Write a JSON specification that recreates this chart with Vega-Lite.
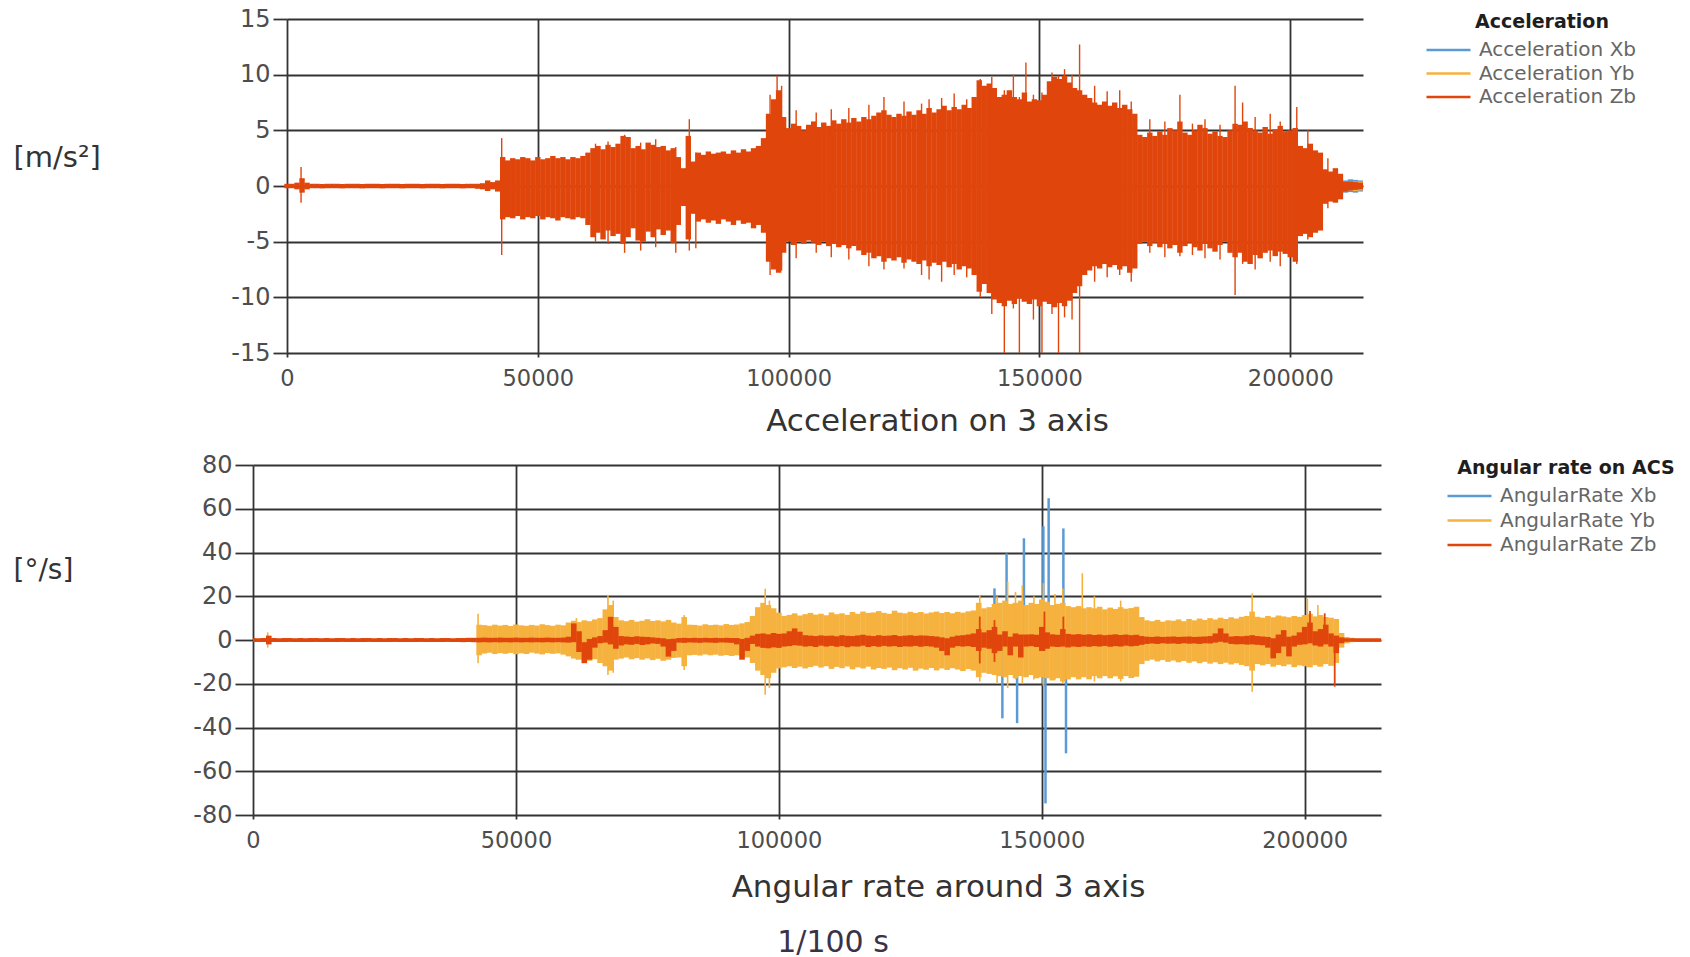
{
  "$schema": "https://vega.github.io/schema/vega-lite/v6.json",
  "background": "white",
  "padding": {"left": 13, "top": 7, "right": 5, "bottom": 0},
  "spacing": 17,
  "config": {
    "font": "DejaVu Sans",
    "view": {"stroke": null},
    "axis": {"gridColor": "#333333", "gridWidth": 1.8, "gridOpacity": 1, "domain": false, "tickColor": "#333333", "tickWidth": 1.8, "labelColor": "#4d4d4d", "labelFont": "DejaVu Sans", "labelFontSize": 22.5, "titleFont": "DejaVu Sans", "titleFontWeight": "normal", "titleColor": "#333333", "labelFlush": false, "labelOverlap": false, "labelExpr": "'' + datum.value"},
    "legend": {"labelFont": "DejaVu Sans", "labelFontSize": 20, "labelColor": "#666666", "titleFont": "DejaVu Sans", "titleFontSize": 19, "titleFontWeight": "bold", "titleColor": "#1e1e1e", "titleLimit": 500, "labelLimit": 500}
  },
  "resolve": {"scale": {"color": "independent", "x": "independent", "y": "independent"}, "legend": {"color": "independent"}},
  "datasets": {
    "accX": [{"t":209000,"lo":-0.6,"hi":0.6},{"t":210000,"lo":-0.5,"hi":0.6},{"t":211000,"lo":-0.6,"hi":0.5},{"t":212000,"lo":-0.55,"hi":0.6},{"t":213000,"lo":-0.6,"hi":0.55},{"t":214000,"lo":-0.5,"hi":0.5}],
    "accY": [{"t":209000,"lo":-0.45,"hi":0.45},{"t":210000,"lo":-0.4,"hi":0.45},{"t":211000,"lo":-0.45,"hi":0.4},{"t":212000,"lo":-0.4,"hi":0.4},{"t":213000,"lo":-0.45,"hi":0.4},{"t":214000,"lo":-0.4,"hi":0.4}],
    "accZ": [
      {"t":0,"lo":-0.2,"hi":0.2},{"t":1000,"lo":-0.2,"hi":0.2},{"t":2000,"lo":-0.3,"hi":0.3},{"t":3000,"lo":-0.6,"hi":0.7},{"t":4000,"lo":-0.3,"hi":0.3},
      {"t":5000,"lo":-0.2,"hi":0.2},{"t":6000,"lo":-0.2,"hi":0.2},{"t":7000,"lo":-0.22,"hi":0.18},{"t":8000,"lo":-0.2,"hi":0.2},{"t":9000,"lo":-0.2,"hi":0.2},
      {"t":10000,"lo":-0.2,"hi":0.2},{"t":11000,"lo":-0.22,"hi":0.18},{"t":12000,"lo":-0.2,"hi":0.2},{"t":13000,"lo":-0.2,"hi":0.2},{"t":14000,"lo":-0.2,"hi":0.2},
      {"t":15000,"lo":-0.22,"hi":0.18},{"t":16000,"lo":-0.2,"hi":0.2},{"t":17000,"lo":-0.2,"hi":0.2},{"t":18000,"lo":-0.2,"hi":0.2},{"t":19000,"lo":-0.22,"hi":0.18},
      {"t":20000,"lo":-0.2,"hi":0.2},{"t":21000,"lo":-0.2,"hi":0.2},{"t":22000,"lo":-0.2,"hi":0.2},{"t":23000,"lo":-0.22,"hi":0.18},{"t":24000,"lo":-0.2,"hi":0.2},
      {"t":25000,"lo":-0.2,"hi":0.2},{"t":26000,"lo":-0.2,"hi":0.2},{"t":27000,"lo":-0.22,"hi":0.18},{"t":28000,"lo":-0.2,"hi":0.2},{"t":29000,"lo":-0.2,"hi":0.2},
      {"t":30000,"lo":-0.2,"hi":0.2},{"t":31000,"lo":-0.22,"hi":0.18},{"t":32000,"lo":-0.2,"hi":0.2},{"t":33000,"lo":-0.2,"hi":0.2},{"t":34000,"lo":-0.2,"hi":0.2},
      {"t":35000,"lo":-0.22,"hi":0.18},{"t":36000,"lo":-0.2,"hi":0.2},{"t":37000,"lo":-0.2,"hi":0.2},{"t":38000,"lo":-0.25,"hi":0.2},{"t":39000,"lo":-0.3,"hi":0.25},
      {"t":40000,"lo":-0.45,"hi":0.5},{"t":41000,"lo":-0.3,"hi":0.35},{"t":42000,"lo":-0.5,"hi":0.5},{"t":43000,"lo":-3.0,"hi":2.6},{"t":44000,"lo":-2.8,"hi":2.3},
      {"t":45000,"lo":-2.9,"hi":2.5},{"t":46000,"lo":-2.7,"hi":2.4},{"t":47000,"lo":-3.0,"hi":2.6},{"t":48000,"lo":-2.8,"hi":2.5},{"t":49000,"lo":-2.9,"hi":2.3},
      {"t":50000,"lo":-2.7,"hi":2.6},{"t":51000,"lo":-3.0,"hi":2.4},{"t":52000,"lo":-2.8,"hi":2.5},{"t":53000,"lo":-2.9,"hi":2.7},{"t":54000,"lo":-3.1,"hi":2.5},
      {"t":55000,"lo":-2.8,"hi":2.6},{"t":56000,"lo":-2.9,"hi":2.4},{"t":57000,"lo":-3.0,"hi":2.6},{"t":58000,"lo":-2.8,"hi":2.5},{"t":59000,"lo":-2.9,"hi":2.7},
      {"t":60000,"lo":-3.5,"hi":3.0},{"t":61000,"lo":-4.6,"hi":3.4},{"t":62000,"lo":-4.2,"hi":3.6},{"t":63000,"lo":-4.8,"hi":3.3},{"t":64000,"lo":-4.0,"hi":3.7},
      {"t":65000,"lo":-4.5,"hi":3.5},{"t":66000,"lo":-4.3,"hi":3.8},{"t":67000,"lo":-5.2,"hi":4.5},{"t":68000,"lo":-4.6,"hi":4.4},{"t":69000,"lo":-3.8,"hi":3.4},
      {"t":70000,"lo":-4.9,"hi":3.6},{"t":71000,"lo":-5.0,"hi":3.3},{"t":72000,"lo":-4.1,"hi":3.9},{"t":73000,"lo":-4.6,"hi":3.7},{"t":74000,"lo":-3.9,"hi":3.5},
      {"t":75000,"lo":-4.4,"hi":3.6},{"t":76000,"lo":-4.0,"hi":3.2},{"t":77000,"lo":-5.1,"hi":3.4},{"t":78000,"lo":-3.5,"hi":2.6},{"t":79000,"lo":-1.8,"hi":1.6},
      {"t":80000,"lo":-4.8,"hi":4.5},{"t":81000,"lo":-2.5,"hi":2.2},{"t":82000,"lo":-3.2,"hi":3.0},{"t":83000,"lo":-3.0,"hi":2.8},{"t":84000,"lo":-3.3,"hi":3.1},
      {"t":85000,"lo":-3.1,"hi":2.9},{"t":86000,"lo":-3.4,"hi":3.0},{"t":87000,"lo":-3.0,"hi":3.1},{"t":88000,"lo":-3.2,"hi":2.9},{"t":89000,"lo":-3.5,"hi":3.2},
      {"t":90000,"lo":-3.1,"hi":3.0},{"t":91000,"lo":-3.4,"hi":3.3},{"t":92000,"lo":-3.3,"hi":3.1},{"t":93000,"lo":-3.8,"hi":3.4},{"t":94000,"lo":-3.5,"hi":3.6},
      {"t":95000,"lo":-4.2,"hi":4.3},{"t":96000,"lo":-6.8,"hi":6.5},{"t":97000,"lo":-7.5,"hi":7.8},{"t":98000,"lo":-7.8,"hi":8.6},{"t":99000,"lo":-6.0,"hi":6.2},
      {"t":100000,"lo":-5.0,"hi":5.2},{"t":101000,"lo":-5.3,"hi":5.6},{"t":102000,"lo":-5.0,"hi":5.4},{"t":103000,"lo":-5.2,"hi":5.0},{"t":104000,"lo":-4.9,"hi":5.5},
      {"t":105000,"lo":-5.1,"hi":5.8},{"t":106000,"lo":-5.3,"hi":5.3},{"t":107000,"lo":-5.0,"hi":5.7},{"t":108000,"lo":-5.4,"hi":5.4},{"t":109000,"lo":-5.2,"hi":5.9},
      {"t":110000,"lo":-5.5,"hi":5.6},{"t":111000,"lo":-5.3,"hi":6.0},{"t":112000,"lo":-5.6,"hi":5.7},{"t":113000,"lo":-5.4,"hi":6.1},{"t":114000,"lo":-5.8,"hi":5.8},
      {"t":115000,"lo":-6.2,"hi":6.2},{"t":116000,"lo":-6.0,"hi":6.0},{"t":117000,"lo":-6.5,"hi":6.3},{"t":118000,"lo":-6.3,"hi":6.6},{"t":119000,"lo":-6.8,"hi":6.8},
      {"t":120000,"lo":-6.5,"hi":6.4},{"t":121000,"lo":-6.7,"hi":6.2},{"t":122000,"lo":-6.4,"hi":6.5},{"t":123000,"lo":-6.9,"hi":6.3},{"t":124000,"lo":-6.6,"hi":6.7},
      {"t":125000,"lo":-6.8,"hi":6.4},{"t":126000,"lo":-7.0,"hi":6.8},{"t":127000,"lo":-6.7,"hi":6.5},{"t":128000,"lo":-7.2,"hi":7.0},{"t":129000,"lo":-6.9,"hi":6.6},
      {"t":130000,"lo":-7.1,"hi":6.9},{"t":131000,"lo":-6.8,"hi":7.2},{"t":132000,"lo":-7.3,"hi":6.8},{"t":133000,"lo":-7.0,"hi":7.1},{"t":134000,"lo":-7.5,"hi":6.9},
      {"t":135000,"lo":-7.2,"hi":7.3},{"t":136000,"lo":-7.4,"hi":7.0},{"t":137000,"lo":-8.0,"hi":8.0},{"t":138000,"lo":-9.5,"hi":9.5},{"t":139000,"lo":-8.8,"hi":9.0},
      {"t":140000,"lo":-9.6,"hi":9.2},{"t":141000,"lo":-10.2,"hi":8.8},{"t":142000,"lo":-10.5,"hi":8.0},{"t":143000,"lo":-10.8,"hi":8.2},{"t":144000,"lo":-10.3,"hi":8.6},
      {"t":145000,"lo":-10.6,"hi":8.0},{"t":146000,"lo":-10.1,"hi":7.8},{"t":147000,"lo":-10.4,"hi":8.4},{"t":148000,"lo":-10.6,"hi":7.6},{"t":149000,"lo":-10.2,"hi":7.8},
      {"t":150000,"lo":-10.8,"hi":7.7},{"t":151000,"lo":-10.4,"hi":8.2},{"t":152000,"lo":-10.6,"hi":9.4},{"t":153000,"lo":-10.9,"hi":9.8},{"t":154000,"lo":-10.5,"hi":9.6},
      {"t":155000,"lo":-10.8,"hi":9.9},{"t":156000,"lo":-10.3,"hi":9.3},{"t":157000,"lo":-9.6,"hi":8.8},{"t":158000,"lo":-9.0,"hi":8.6},{"t":159000,"lo":-8.0,"hi":8.2},
      {"t":160000,"lo":-7.6,"hi":7.9},{"t":161000,"lo":-7.2,"hi":7.5},{"t":162000,"lo":-7.4,"hi":7.3},{"t":163000,"lo":-7.0,"hi":7.6},{"t":164000,"lo":-7.3,"hi":7.2},
      {"t":165000,"lo":-7.1,"hi":7.5},{"t":166000,"lo":-7.5,"hi":7.0},{"t":167000,"lo":-7.2,"hi":7.3},{"t":168000,"lo":-7.8,"hi":6.9},{"t":169000,"lo":-7.4,"hi":6.5},
      {"t":170000,"lo":-5.2,"hi":4.6},{"t":171000,"lo":-5.0,"hi":4.4},{"t":172000,"lo":-5.4,"hi":4.8},{"t":173000,"lo":-5.1,"hi":4.5},{"t":174000,"lo":-5.5,"hi":4.9},
      {"t":175000,"lo":-5.2,"hi":4.6},{"t":176000,"lo":-5.6,"hi":5.2},{"t":177000,"lo":-5.3,"hi":5.0},{"t":178000,"lo":-6.0,"hi":5.8},{"t":179000,"lo":-5.4,"hi":4.8},
      {"t":180000,"lo":-5.1,"hi":4.6},{"t":181000,"lo":-5.5,"hi":5.0},{"t":182000,"lo":-5.8,"hi":5.5},{"t":183000,"lo":-5.2,"hi":5.2},{"t":184000,"lo":-5.6,"hi":4.7},
      {"t":185000,"lo":-5.9,"hi":4.9},{"t":186000,"lo":-5.3,"hi":4.5},{"t":187000,"lo":-5.0,"hi":4.4},{"t":188000,"lo":-6.0,"hi":5.0},{"t":189000,"lo":-6.4,"hi":5.6},
      {"t":190000,"lo":-6.0,"hi":5.5},{"t":191000,"lo":-6.8,"hi":5.8},{"t":192000,"lo":-7.0,"hi":5.2},{"t":193000,"lo":-6.2,"hi":5.0},{"t":194000,"lo":-6.5,"hi":4.8},
      {"t":195000,"lo":-6.0,"hi":5.3},{"t":196000,"lo":-5.8,"hi":4.7},{"t":197000,"lo":-6.3,"hi":5.1},{"t":198000,"lo":-5.9,"hi":5.4},{"t":199000,"lo":-6.1,"hi":4.9},
      {"t":200000,"lo":-6.4,"hi":5.0},{"t":201000,"lo":-6.8,"hi":5.2},{"t":202000,"lo":-4.5,"hi":3.6},{"t":203000,"lo":-4.3,"hi":3.4},{"t":204000,"lo":-4.6,"hi":3.8},
      {"t":205000,"lo":-4.2,"hi":3.2},{"t":206000,"lo":-4.0,"hi":3.0},{"t":207000,"lo":-1.6,"hi":1.5},{"t":208000,"lo":-1.4,"hi":1.3},{"t":209000,"lo":-1.5,"hi":1.6},
      {"t":210000,"lo":-1.2,"hi":1.1},{"t":211000,"lo":-0.5,"hi":0.4},{"t":212000,"lo":-0.4,"hi":0.4},{"t":213000,"lo":-0.35,"hi":0.35},{"t":214000,"lo":-0.3,"hi":0.3}
    ],
    "accZspikes": [
      {"t":2800,"lo":-1.5,"hi":1.7},{"t":42800,"lo":-6.2,"hi":4.3},{"t":61500,"lo":-5.0,"hi":3.8},{"t":64000,"lo":-5.2,"hi":4.0},{"t":67300,"lo":-6.0,"hi":4.6},
      {"t":70500,"lo":-5.8,"hi":3.9},{"t":73500,"lo":-5.5,"hi":4.2},{"t":77500,"lo":-6.0,"hi":3.5},{"t":80200,"lo":-5.8,"hi":6.0},{"t":81500,"lo":-5.6,"hi":3.0},
      {"t":96300,"lo":-8.0,"hi":8.2},{"t":97700,"lo":-6.0,"hi":9.9},{"t":98600,"lo":-7.6,"hi":9.0},{"t":101500,"lo":-6.5,"hi":6.8},{"t":105500,"lo":-6.0,"hi":6.6},
      {"t":108500,"lo":-6.4,"hi":6.9},{"t":112000,"lo":-6.6,"hi":7.0},{"t":116000,"lo":-7.2,"hi":7.3},{"t":119000,"lo":-7.5,"hi":8.0},{"t":123000,"lo":-7.4,"hi":7.6},
      {"t":126500,"lo":-8.0,"hi":7.4},{"t":128000,"lo":-8.4,"hi":7.8},{"t":130500,"lo":-8.6,"hi":7.9},{"t":133000,"lo":-8.0,"hi":8.3},{"t":135500,"lo":-8.2,"hi":7.8},
      {"t":138200,"lo":-10.0,"hi":9.6},{"t":140500,"lo":-11.5,"hi":9.8},{"t":143000,"lo":-15,"hi":8.6},{"t":144800,"lo":-11.0,"hi":10.0},{"t":146000,"lo":-15,"hi":8.0},
      {"t":147300,"lo":-9.0,"hi":11.1},{"t":148800,"lo":-12.0,"hi":8.2},{"t":150500,"lo":-15,"hi":8.4},{"t":152500,"lo":-11.5,"hi":10.2},{"t":153800,"lo":-15,"hi":9.9},
      {"t":155000,"lo":-11.8,"hi":10.5},{"t":156500,"lo":-12.0,"hi":10.0},{"t":158000,"lo":-15,"hi":12.7},{"t":161000,"lo":-8.6,"hi":9.0},{"t":163500,"lo":-8.2,"hi":8.5},
      {"t":166000,"lo":-8.0,"hi":8.6},{"t":168300,"lo":-8.6,"hi":7.6},{"t":172000,"lo":-6.0,"hi":6.0},{"t":175000,"lo":-6.4,"hi":5.8},{"t":178000,"lo":-6.3,"hi":8.2},
      {"t":180500,"lo":-6.2,"hi":5.6},{"t":183000,"lo":-6.5,"hi":6.0},{"t":186000,"lo":-6.6,"hi":5.5},{"t":189000,"lo":-9.8,"hi":9.0},{"t":190500,"lo":-7.0,"hi":7.5},
      {"t":193000,"lo":-7.5,"hi":6.2},{"t":196000,"lo":-6.8,"hi":6.5},{"t":198000,"lo":-7.2,"hi":5.8},{"t":201300,"lo":-7.0,"hi":7.1},{"t":203500,"lo":-4.8,"hi":5.0},
      {"t":207500,"lo":-2.0,"hi":2.5}
    ],
    "rateXspikes": [
      {"t":127800,"lo":-13,"hi":0},{"t":141000,"lo":-3,"hi":23.6},{"t":142500,"lo":-35.8,"hi":0},{"t":143300,"lo":0,"hi":39.6},{"t":145300,"lo":-38,"hi":0},
      {"t":146600,"lo":0,"hi":46.5},{"t":150300,"lo":-20,"hi":52},{"t":150700,"lo":-74.7,"hi":0},{"t":151300,"lo":0,"hi":64.8},{"t":154100,"lo":0,"hi":51},
      {"t":154600,"lo":-51.8,"hi":0}
    ],
    "rateY": [
      {"t":43000,"lo":-7.0,"hi":7.0},{"t":44000,"lo":-6.2,"hi":6.8},{"t":45000,"lo":-5.8,"hi":6.5},{"t":46000,"lo":-6.4,"hi":7.0},{"t":47000,"lo":-6.0,"hi":6.6},
      {"t":48000,"lo":-6.3,"hi":6.9},{"t":49000,"lo":-5.9,"hi":6.4},{"t":50000,"lo":-6.5,"hi":7.1},{"t":51000,"lo":-6.1,"hi":6.7},{"t":52000,"lo":-6.4,"hi":6.5},
      {"t":53000,"lo":-5.8,"hi":6.9},{"t":54000,"lo":-6.2,"hi":6.6},{"t":55000,"lo":-6.6,"hi":7.2},{"t":56000,"lo":-6.0,"hi":6.8},{"t":57000,"lo":-6.3,"hi":6.5},
      {"t":58000,"lo":-6.1,"hi":7.0},{"t":59000,"lo":-6.7,"hi":6.7},{"t":60000,"lo":-7.5,"hi":8.0},{"t":61000,"lo":-8.5,"hi":8.8},{"t":62000,"lo":-9.0,"hi":8.2},
      {"t":63000,"lo":-8.2,"hi":9.0},{"t":64000,"lo":-9.5,"hi":8.6},{"t":65000,"lo":-8.8,"hi":9.4},{"t":66000,"lo":-10.5,"hi":10.0},{"t":67000,"lo":-12.0,"hi":14.0},
      {"t":68000,"lo":-14.0,"hi":16.0},{"t":69000,"lo":-9.0,"hi":10.5},{"t":70000,"lo":-8.5,"hi":9.0},{"t":71000,"lo":-8.0,"hi":8.6},{"t":72000,"lo":-8.8,"hi":9.2},
      {"t":73000,"lo":-8.3,"hi":8.4},{"t":74000,"lo":-9.0,"hi":8.8},{"t":75000,"lo":-8.4,"hi":9.5},{"t":76000,"lo":-9.2,"hi":8.7},{"t":77000,"lo":-8.6,"hi":9.0},
      {"t":78000,"lo":-9.5,"hi":8.5},{"t":79000,"lo":-9.0,"hi":9.2},{"t":80000,"lo":-8.2,"hi":8.0},{"t":81000,"lo":-8.0,"hi":7.5},{"t":82000,"lo":-12.0,"hi":10.5},
      {"t":83000,"lo":-7.0,"hi":7.0},{"t":84000,"lo":-6.8,"hi":6.9},{"t":85000,"lo":-7.1,"hi":6.6},{"t":86000,"lo":-6.6,"hi":7.2},{"t":87000,"lo":-7.0,"hi":6.8},
      {"t":88000,"lo":-6.7,"hi":7.0},{"t":89000,"lo":-7.2,"hi":6.7},{"t":90000,"lo":-6.9,"hi":7.3},{"t":91000,"lo":-7.3,"hi":6.9},{"t":92000,"lo":-7.0,"hi":7.1},
      {"t":93000,"lo":-7.4,"hi":7.6},{"t":94000,"lo":-8.0,"hi":8.2},{"t":95000,"lo":-10.5,"hi":11.0},{"t":96000,"lo":-14.0,"hi":15.0},{"t":97000,"lo":-16.0,"hi":17.0},
      {"t":98000,"lo":-17.5,"hi":16.0},{"t":99000,"lo":-15.0,"hi":14.5},{"t":100000,"lo":-13.0,"hi":12.5},{"t":101000,"lo":-12.5,"hi":11.0},{"t":102000,"lo":-12.0,"hi":11.5},
      {"t":103000,"lo":-12.8,"hi":12.2},{"t":104000,"lo":-12.2,"hi":11.2},{"t":105000,"lo":-13.0,"hi":11.8},{"t":106000,"lo":-12.4,"hi":12.4},{"t":107000,"lo":-11.8,"hi":11.6},
      {"t":108000,"lo":-12.6,"hi":12.0},{"t":109000,"lo":-12.0,"hi":11.3},{"t":110000,"lo":-13.2,"hi":12.6},{"t":111000,"lo":-12.3,"hi":11.8},{"t":112000,"lo":-12.9,"hi":12.2},
      {"t":113000,"lo":-12.1,"hi":11.5},{"t":114000,"lo":-13.4,"hi":12.8},{"t":115000,"lo":-12.5,"hi":12.0},{"t":116000,"lo":-13.0,"hi":13.0},{"t":117000,"lo":-12.2,"hi":12.4},
      {"t":118000,"lo":-13.5,"hi":12.6},{"t":119000,"lo":-12.8,"hi":13.2},{"t":120000,"lo":-13.2,"hi":12.4},{"t":121000,"lo":-12.6,"hi":12.0},{"t":122000,"lo":-13.8,"hi":13.4},
      {"t":123000,"lo":-12.9,"hi":12.5},{"t":124000,"lo":-13.5,"hi":12.2},{"t":125000,"lo":-12.7,"hi":12.9},{"t":126000,"lo":-14.0,"hi":12.4},{"t":127000,"lo":-13.1,"hi":12.8},
      {"t":128000,"lo":-13.6,"hi":12.1},{"t":129000,"lo":-12.8,"hi":12.6},{"t":130000,"lo":-13.9,"hi":13.0},{"t":131000,"lo":-13.0,"hi":12.3},{"t":132000,"lo":-13.7,"hi":12.8},
      {"t":133000,"lo":-12.9,"hi":12.2},{"t":134000,"lo":-13.5,"hi":12.9},{"t":135000,"lo":-14.2,"hi":12.5},{"t":136000,"lo":-13.3,"hi":13.1},{"t":137000,"lo":-14.0,"hi":13.5},
      {"t":138000,"lo":-17.0,"hi":17.0},{"t":139000,"lo":-15.0,"hi":14.5},{"t":140000,"lo":-15.5,"hi":15.0},{"t":141000,"lo":-16.0,"hi":16.5},{"t":142000,"lo":-16.5,"hi":17.0},
      {"t":143000,"lo":-17.0,"hi":18.0},{"t":144000,"lo":-16.0,"hi":16.5},{"t":145000,"lo":-17.5,"hi":17.0},{"t":146000,"lo":-16.5,"hi":18.0},{"t":147000,"lo":-17.0,"hi":16.0},
      {"t":148000,"lo":-16.0,"hi":17.0},{"t":149000,"lo":-17.5,"hi":16.5},{"t":150000,"lo":-17.0,"hi":18.5},{"t":151000,"lo":-17.5,"hi":17.5},{"t":152000,"lo":-18.5,"hi":16.0},
      {"t":153000,"lo":-17.5,"hi":16.5},{"t":154000,"lo":-19.0,"hi":17.0},{"t":155000,"lo":-18.0,"hi":15.5},{"t":156000,"lo":-17.0,"hi":15.0},{"t":157000,"lo":-18.0,"hi":15.5},
      {"t":158000,"lo":-17.0,"hi":14.5},{"t":159000,"lo":-18.0,"hi":15.0},{"t":160000,"lo":-16.5,"hi":14.5},{"t":161000,"lo":-17.5,"hi":15.2},{"t":162000,"lo":-16.5,"hi":14.0},
      {"t":163000,"lo":-17.5,"hi":14.8},{"t":164000,"lo":-16.6,"hi":14.2},{"t":165000,"lo":-17.8,"hi":15.0},{"t":166000,"lo":-16.5,"hi":14.3},{"t":167000,"lo":-17.4,"hi":14.6},
      {"t":168000,"lo":-16.8,"hi":15.2},{"t":169000,"lo":-11.0,"hi":10.5},{"t":170000,"lo":-9.5,"hi":9.0},{"t":171000,"lo":-9.0,"hi":8.6},{"t":172000,"lo":-9.8,"hi":9.2},
      {"t":173000,"lo":-9.2,"hi":8.4},{"t":174000,"lo":-10.0,"hi":9.0},{"t":175000,"lo":-9.4,"hi":8.8},{"t":176000,"lo":-10.2,"hi":9.4},{"t":177000,"lo":-9.6,"hi":8.6},
      {"t":178000,"lo":-10.4,"hi":9.6},{"t":179000,"lo":-9.8,"hi":9.0},{"t":180000,"lo":-10.6,"hi":9.8},{"t":181000,"lo":-10.0,"hi":9.2},{"t":182000,"lo":-10.8,"hi":10.0},
      {"t":183000,"lo":-10.2,"hi":9.4},{"t":184000,"lo":-11.0,"hi":10.2},{"t":185000,"lo":-10.4,"hi":9.6},{"t":186000,"lo":-11.2,"hi":10.4},{"t":187000,"lo":-10.6,"hi":9.8},
      {"t":188000,"lo":-11.4,"hi":10.6},{"t":189000,"lo":-12.0,"hi":11.0},{"t":190000,"lo":-14.0,"hi":13.0},{"t":191000,"lo":-11.0,"hi":10.6},{"t":192000,"lo":-11.6,"hi":10.2},
      {"t":193000,"lo":-11.0,"hi":11.0},{"t":194000,"lo":-12.2,"hi":10.4},{"t":195000,"lo":-11.4,"hi":11.2},{"t":196000,"lo":-12.0,"hi":10.8},{"t":197000,"lo":-11.2,"hi":10.4},
      {"t":198000,"lo":-12.4,"hi":11.0},{"t":199000,"lo":-11.6,"hi":10.6},{"t":200000,"lo":-12.0,"hi":11.4},{"t":201000,"lo":-12.5,"hi":12.0},{"t":202000,"lo":-11.5,"hi":10.8},
      {"t":203000,"lo":-12.2,"hi":11.4},{"t":204000,"lo":-11.0,"hi":10.5},{"t":205000,"lo":-11.8,"hi":10.2},{"t":206000,"lo":-10.5,"hi":9.6},{"t":207000,"lo":-3.5,"hi":3.2},
      {"t":208000,"lo":-1.5,"hi":1.4},{"t":209000,"lo":-1.0,"hi":1.0}
    ],
    "rateYspikes": [
      {"t":2800,"lo":-3.5,"hi":3.5},{"t":42800,"lo":-10.6,"hi":12},{"t":61500,"lo":-9,"hi":10},{"t":67500,"lo":-16,"hi":20.5},{"t":68500,"lo":-15,"hi":18},
      {"t":82000,"lo":-13.7,"hi":11.4},{"t":97400,"lo":-25,"hi":23.5},{"t":98200,"lo":-22,"hi":18},{"t":138200,"lo":-19,"hi":20.6},{"t":141500,"lo":-20,"hi":20},
      {"t":143500,"lo":-22,"hi":26.7},{"t":145000,"lo":-18,"hi":22},{"t":146300,"lo":-20,"hi":25},{"t":148500,"lo":-18,"hi":20},{"t":150300,"lo":-21,"hi":26},
      {"t":152500,"lo":-18,"hi":21},{"t":154000,"lo":-20,"hi":23.6},{"t":157700,"lo":-12,"hi":30.5},{"t":160000,"lo":-19,"hi":20},{"t":165000,"lo":-19,"hi":18},
      {"t":190000,"lo":-23.6,"hi":21.3},{"t":200500,"lo":-12,"hi":19},{"t":202500,"lo":-12,"hi":16}
    ],
    "rateZ": [
      {"t":0,"lo":-0.9,"hi":0.9},{"t":1000,"lo":-0.9,"hi":0.8},{"t":2000,"lo":-0.9,"hi":0.9},{"t":3000,"lo":-2.0,"hi":2.0},{"t":4000,"lo":-0.9,"hi":0.9},
      {"t":5000,"lo":-0.9,"hi":0.8},{"t":6000,"lo":-0.9,"hi":0.9},{"t":7000,"lo":-0.8,"hi":0.9},{"t":8000,"lo":-0.9,"hi":0.8},{"t":9000,"lo":-0.9,"hi":0.9},
      {"t":10000,"lo":-0.9,"hi":0.8},{"t":11000,"lo":-0.9,"hi":0.9},{"t":12000,"lo":-0.8,"hi":0.9},{"t":13000,"lo":-0.9,"hi":0.8},{"t":14000,"lo":-0.9,"hi":0.9},
      {"t":15000,"lo":-0.9,"hi":0.8},{"t":16000,"lo":-0.9,"hi":0.9},{"t":17000,"lo":-0.8,"hi":0.9},{"t":18000,"lo":-0.9,"hi":0.8},{"t":19000,"lo":-0.9,"hi":0.9},
      {"t":20000,"lo":-0.9,"hi":0.8},{"t":21000,"lo":-0.9,"hi":0.9},{"t":22000,"lo":-0.8,"hi":0.9},{"t":23000,"lo":-0.9,"hi":0.8},{"t":24000,"lo":-0.9,"hi":0.9},
      {"t":25000,"lo":-0.9,"hi":0.8},{"t":26000,"lo":-0.9,"hi":0.9},{"t":27000,"lo":-0.8,"hi":0.9},{"t":28000,"lo":-0.9,"hi":0.8},{"t":29000,"lo":-0.9,"hi":0.9},
      {"t":30000,"lo":-0.9,"hi":0.8},{"t":31000,"lo":-0.9,"hi":0.9},{"t":32000,"lo":-0.8,"hi":0.9},{"t":33000,"lo":-0.9,"hi":0.8},{"t":34000,"lo":-0.9,"hi":0.9},
      {"t":35000,"lo":-0.9,"hi":0.8},{"t":36000,"lo":-0.9,"hi":0.9},{"t":37000,"lo":-0.8,"hi":0.9},{"t":38000,"lo":-0.9,"hi":0.8},{"t":39000,"lo":-0.9,"hi":0.9},
      {"t":40000,"lo":-1.0,"hi":0.9},{"t":41000,"lo":-0.9,"hi":1.0},{"t":42000,"lo":-1.0,"hi":1.0},{"t":43000,"lo":-1.1,"hi":1.0},{"t":44000,"lo":-1.0,"hi":1.1},
      {"t":45000,"lo":-1.1,"hi":1.0},{"t":46000,"lo":-1.0,"hi":1.0},{"t":47000,"lo":-1.1,"hi":1.1},{"t":48000,"lo":-1.0,"hi":1.0},{"t":49000,"lo":-1.1,"hi":1.0},
      {"t":50000,"lo":-1.0,"hi":1.1},{"t":51000,"lo":-1.1,"hi":1.0},{"t":52000,"lo":-1.0,"hi":1.0},{"t":53000,"lo":-1.1,"hi":1.1},{"t":54000,"lo":-1.0,"hi":1.0},
      {"t":55000,"lo":-1.1,"hi":1.0},{"t":56000,"lo":-1.0,"hi":1.1},{"t":57000,"lo":-1.1,"hi":1.0},{"t":58000,"lo":-1.0,"hi":1.0},{"t":59000,"lo":-1.1,"hi":1.1},
      {"t":60000,"lo":-1.2,"hi":1.5},{"t":61000,"lo":-1.0,"hi":7.6},{"t":62000,"lo":-5.5,"hi":4.0},{"t":63000,"lo":-10.6,"hi":-1.0},{"t":64000,"lo":-9.0,"hi":0.5},
      {"t":65000,"lo":-3.5,"hi":1.2},{"t":66000,"lo":-1.5,"hi":1.8},{"t":67000,"lo":-1.2,"hi":4.5},{"t":68000,"lo":-2.0,"hi":10.6},{"t":69000,"lo":-4.0,"hi":6.0},
      {"t":70000,"lo":-2.5,"hi":1.8},{"t":71000,"lo":-2.0,"hi":1.6},{"t":72000,"lo":-2.2,"hi":1.4},{"t":73000,"lo":-1.8,"hi":1.7},{"t":74000,"lo":-2.3,"hi":1.5},
      {"t":75000,"lo":-2.0,"hi":1.4},{"t":76000,"lo":-1.6,"hi":1.2},{"t":77000,"lo":-1.8,"hi":1.0},{"t":78000,"lo":-3.0,"hi":0.8},{"t":79000,"lo":-7.6,"hi":0.4},
      {"t":80000,"lo":-5.0,"hi":0.6},{"t":81000,"lo":-1.2,"hi":0.9},{"t":82000,"lo":-1.3,"hi":1.0},{"t":83000,"lo":-1.1,"hi":0.9},{"t":84000,"lo":-1.2,"hi":1.0},
      {"t":85000,"lo":-1.3,"hi":0.9},{"t":86000,"lo":-1.1,"hi":1.0},{"t":87000,"lo":-1.2,"hi":0.9},{"t":88000,"lo":-1.3,"hi":1.0},{"t":89000,"lo":-1.1,"hi":0.9},
      {"t":90000,"lo":-1.2,"hi":1.0},{"t":91000,"lo":-1.3,"hi":0.9},{"t":92000,"lo":-2.0,"hi":0.9},{"t":93000,"lo":-9.0,"hi":0.5},{"t":94000,"lo":-5.0,"hi":1.0},
      {"t":95000,"lo":-1.8,"hi":2.0},{"t":96000,"lo":-3.0,"hi":2.8},{"t":97000,"lo":-3.6,"hi":3.0},{"t":98000,"lo":-3.8,"hi":2.6},{"t":99000,"lo":-3.4,"hi":3.2},
      {"t":100000,"lo":-3.6,"hi":2.8},{"t":101000,"lo":-3.0,"hi":3.0},{"t":102000,"lo":-2.8,"hi":4.0},{"t":103000,"lo":-2.4,"hi":5.3},{"t":104000,"lo":-2.6,"hi":3.8},
      {"t":105000,"lo":-3.0,"hi":2.2},{"t":106000,"lo":-2.8,"hi":2.0},{"t":107000,"lo":-3.2,"hi":1.8},{"t":108000,"lo":-2.6,"hi":2.1},{"t":109000,"lo":-3.0,"hi":1.9},
      {"t":110000,"lo":-2.7,"hi":2.0},{"t":111000,"lo":-3.1,"hi":1.7},{"t":112000,"lo":-2.8,"hi":2.2},{"t":113000,"lo":-3.3,"hi":1.9},{"t":114000,"lo":-2.9,"hi":1.8},
      {"t":115000,"lo":-3.0,"hi":2.1},{"t":116000,"lo":-2.6,"hi":2.4},{"t":117000,"lo":-3.2,"hi":2.0},{"t":118000,"lo":-2.8,"hi":1.8},{"t":119000,"lo":-3.1,"hi":2.2},
      {"t":120000,"lo":-2.7,"hi":1.9},{"t":121000,"lo":-3.0,"hi":2.0},{"t":122000,"lo":-2.8,"hi":2.3},{"t":123000,"lo":-3.2,"hi":1.8},{"t":124000,"lo":-2.9,"hi":2.0},
      {"t":125000,"lo":-3.0,"hi":2.2},{"t":126000,"lo":-2.7,"hi":1.9},{"t":127000,"lo":-3.1,"hi":2.1},{"t":128000,"lo":-2.8,"hi":2.0},{"t":129000,"lo":-3.0,"hi":1.8},
      {"t":130000,"lo":-3.5,"hi":1.6},{"t":131000,"lo":-5.0,"hi":1.2},{"t":132000,"lo":-7.0,"hi":0.8},{"t":133000,"lo":-3.5,"hi":1.5},{"t":134000,"lo":-2.8,"hi":2.0},
      {"t":135000,"lo":-3.0,"hi":2.2},{"t":136000,"lo":-2.8,"hi":2.5},{"t":137000,"lo":-3.2,"hi":3.0},{"t":138000,"lo":-5.0,"hi":5.0},{"t":139000,"lo":-3.5,"hi":3.5},
      {"t":140000,"lo":-4.0,"hi":4.5},{"t":141000,"lo":-6.0,"hi":6.0},{"t":142000,"lo":-5.0,"hi":2.5},{"t":143000,"lo":-3.0,"hi":4.0},{"t":144000,"lo":-7.0,"hi":1.5},
      {"t":145000,"lo":-3.0,"hi":3.0},{"t":146000,"lo":-8.0,"hi":2.5},{"t":147000,"lo":-3.0,"hi":2.5},{"t":148000,"lo":-2.8,"hi":2.6},{"t":149000,"lo":-3.2,"hi":2.4},
      {"t":150000,"lo":-5.0,"hi":6.0},{"t":151000,"lo":-4.0,"hi":3.5},{"t":152000,"lo":-3.0,"hi":2.6},{"t":153000,"lo":-3.2,"hi":2.4},{"t":154000,"lo":-3.0,"hi":5.0},
      {"t":155000,"lo":-3.4,"hi":2.8},{"t":156000,"lo":-3.0,"hi":2.5},{"t":157000,"lo":-3.2,"hi":2.7},{"t":158000,"lo":-2.9,"hi":2.4},{"t":159000,"lo":-3.1,"hi":2.6},
      {"t":160000,"lo":-2.8,"hi":2.3},{"t":161000,"lo":-3.0,"hi":2.5},{"t":162000,"lo":-2.7,"hi":2.2},{"t":163000,"lo":-3.1,"hi":2.4},{"t":164000,"lo":-2.8,"hi":2.6},
      {"t":165000,"lo":-3.0,"hi":2.3},{"t":166000,"lo":-2.6,"hi":2.5},{"t":167000,"lo":-2.9,"hi":2.2},{"t":168000,"lo":-2.7,"hi":2.4},{"t":169000,"lo":-2.2,"hi":1.8},
      {"t":170000,"lo":-1.8,"hi":1.5},{"t":171000,"lo":-1.6,"hi":1.4},{"t":172000,"lo":-1.8,"hi":1.6},{"t":173000,"lo":-1.5,"hi":1.4},{"t":174000,"lo":-1.7,"hi":1.5},
      {"t":175000,"lo":-1.6,"hi":1.6},{"t":176000,"lo":-1.8,"hi":1.4},{"t":177000,"lo":-1.5,"hi":1.5},{"t":178000,"lo":-1.7,"hi":1.6},{"t":179000,"lo":-1.6,"hi":1.4},
      {"t":180000,"lo":-1.8,"hi":1.5},{"t":181000,"lo":-1.5,"hi":1.6},{"t":182000,"lo":-1.6,"hi":1.8},{"t":183000,"lo":-1.2,"hi":3.0},{"t":184000,"lo":-0.8,"hi":5.3},
      {"t":185000,"lo":-1.2,"hi":3.0},{"t":186000,"lo":-1.8,"hi":1.6},{"t":187000,"lo":-2.0,"hi":1.8},{"t":188000,"lo":-1.9,"hi":1.7},{"t":189000,"lo":-2.1,"hi":1.9},
      {"t":190000,"lo":-2.0,"hi":2.2},{"t":191000,"lo":-2.2,"hi":1.8},{"t":192000,"lo":-2.4,"hi":1.6},{"t":193000,"lo":-3.5,"hi":1.4},{"t":194000,"lo":-8.4,"hi":0.8},
      {"t":195000,"lo":-6.0,"hi":2.5},{"t":196000,"lo":-3.0,"hi":4.5},{"t":197000,"lo":-7.5,"hi":1.5},{"t":198000,"lo":-3.0,"hi":2.0},{"t":199000,"lo":-2.2,"hi":3.5},
      {"t":200000,"lo":-2.0,"hi":6.0},{"t":201000,"lo":-1.5,"hi":8.0},{"t":202000,"lo":-2.5,"hi":4.0},{"t":203000,"lo":-3.0,"hi":5.0},{"t":204000,"lo":-2.0,"hi":7.0},
      {"t":205000,"lo":-3.0,"hi":3.0},{"t":206000,"lo":-6.0,"hi":2.0},{"t":207000,"lo":-1.5,"hi":1.2},{"t":208000,"lo":-0.8,"hi":0.8},{"t":209000,"lo":-0.8,"hi":0.8},
      {"t":210000,"lo":-0.8,"hi":0.8},{"t":211000,"lo":-0.8,"hi":0.8},{"t":212000,"lo":-0.8,"hi":0.8},{"t":213000,"lo":-0.8,"hi":0.8},{"t":214000,"lo":-0.8,"hi":0.8}
    ],
    "rateZspikes": [
      {"t":138200,"lo":-10.7,"hi":10.7},{"t":141000,"lo":-10,"hi":9.1},{"t":150500,"lo":-5,"hi":13},{"t":154100,"lo":-2,"hi":10.7},{"t":201000,"lo":0,"hi":13.3},
      {"t":203800,"lo":0,"hi":12.2},{"t":205700,"lo":-21.3,"hi":0}
    ]
  },
  "vconcat": [
    {
      "width": 1110,
      "height": 334,
      "encoding": {
        "x": {"field": "t", "type": "quantitative", "scale": {"domain": [0, 214500], "range": [34, 1110], "nice": false, "zero": false},
              "axis": {"values": [0, 50000, 100000, 150000, 200000], "title": "Acceleration on 3 axis", "titleX": 684, "titleY": 68, "titleAlign": "center", "titleBaseline": "middle", "titleFontSize": 31, "tickSize": 4, "labelPadding": 10, "grid": true}},
        "y": {"field": "lo", "type": "quantitative", "scale": {"domain": [-15, 15], "nice": false},
              "axis": {"values": [-15, -10, -5, 0, 5, 10, 15], "offset": -34, "title": "[m/s²]", "titleAngle": 0, "titleX": -274, "titleY": 138, "titleAlign": "left", "titleBaseline": "middle", "titleFontSize": 29, "tickSize": 14, "labelPadding": 3, "labelFontSize": 24, "grid": true}},
        "y2": {"field": "hi"}
      },
      "layer": [
        {"data": {"name": "accX"}, "mark": {"type": "rule", "strokeWidth": 5.4, "clip": true},
         "encoding": {"color": {"datum": "Acceleration Xb", "type": "nominal", "scale": {"domain": ["Acceleration Xb", "Acceleration Yb", "Acceleration Zb"], "range": ["#5b9bd5", "#f6b23e", "#e0460c"]},
           "legend": {"title": "Acceleration", "orient": "none", "legendX": 1172, "legendY": -6.5, "symbolType": "M-1,0L3,0", "symbolSize": 484, "labelOffset": 29, "rowPadding": 0.5, "titlePadding": 6, "titleAnchor": "middle", "padding": 0, "encode": {"symbols": {"update": {"strokeWidth": {"value": 2.5}}}, "title": {"update": {"dx": {"value": 11}}}}}}}},
        {"data": {"name": "accY"}, "mark": {"type": "rule", "strokeWidth": 5.4, "clip": true},
         "encoding": {"color": {"datum": "Acceleration Yb", "type": "nominal", "scale": {"domain": ["Acceleration Xb", "Acceleration Yb", "Acceleration Zb"], "range": ["#5b9bd5", "#f6b23e", "#e0460c"]},
           "legend": {"title": "Acceleration", "orient": "none", "legendX": 1172, "legendY": -6.5, "symbolType": "M-1,0L3,0", "symbolSize": 484, "labelOffset": 29, "rowPadding": 0.5, "titlePadding": 6, "titleAnchor": "middle", "padding": 0, "encode": {"symbols": {"update": {"strokeWidth": {"value": 2.5}}}, "title": {"update": {"dx": {"value": 11}}}}}}}},
        {"data": {"name": "accZ"}, "mark": {"type": "rule", "strokeWidth": 5.4, "clip": true},
         "encoding": {"color": {"datum": "Acceleration Zb", "type": "nominal", "scale": {"domain": ["Acceleration Xb", "Acceleration Yb", "Acceleration Zb"], "range": ["#5b9bd5", "#f6b23e", "#e0460c"]},
           "legend": {"title": "Acceleration", "orient": "none", "legendX": 1172, "legendY": -6.5, "symbolType": "M-1,0L3,0", "symbolSize": 484, "labelOffset": 29, "rowPadding": 0.5, "titlePadding": 6, "titleAnchor": "middle", "padding": 0, "encode": {"symbols": {"update": {"strokeWidth": {"value": 2.5}}}, "title": {"update": {"dx": {"value": 11}}}}}}}},
        {"data": {"name": "accZspikes"}, "mark": {"type": "rule", "strokeWidth": 1.4, "clip": true},
         "encoding": {"color": {"datum": "Acceleration Zb", "type": "nominal", "scale": {"domain": ["Acceleration Xb", "Acceleration Yb", "Acceleration Zb"], "range": ["#5b9bd5", "#f6b23e", "#e0460c"]},
           "legend": {"title": "Acceleration", "orient": "none", "legendX": 1172, "legendY": -6.5, "symbolType": "M-1,0L3,0", "symbolSize": 484, "labelOffset": 29, "rowPadding": 0.5, "titlePadding": 6, "titleAnchor": "middle", "padding": 0, "encode": {"symbols": {"update": {"strokeWidth": {"value": 2.5}}}, "title": {"update": {"dx": {"value": 11}}}}}}}}
      ]
    },
    {
      "width": 1128,
      "height": 350,
      "title": {"text": "1/100 s", "orient": "bottom", "anchor": "middle", "frame": "group", "dx": 16, "offset": 26, "fontSize": 30, "fontWeight": "normal", "color": "#3a3348", "font": "DejaVu Sans"},
      "encoding": {
        "x": {"field": "t", "type": "quantitative", "scale": {"domain": [0, 214500], "nice": false, "zero": false},
              "axis": {"values": [0, 50000, 100000, 150000, 200000], "title": "Angular rate around 3 axis", "titleX": 685, "titleY": 72, "titleAlign": "center", "titleBaseline": "middle", "titleFontSize": 31, "tickSize": 4, "labelPadding": 10, "grid": true}},
        "y": {"field": "lo", "type": "quantitative", "scale": {"domain": [-80, 80], "nice": false},
              "axis": {"values": [-80, -60, -40, -20, 0, 20, 40, 60, 80], "title": "[°/s]", "titleAngle": 0, "titleX": -240, "titleY": 105.5, "titleAlign": "left", "titleBaseline": "middle", "titleFontSize": 28, "tickSize": 18, "labelPadding": 3, "labelFontSize": 24, "grid": true}},
        "y2": {"field": "hi"}
      },
      "layer": [
        {"data": {"name": "rateXspikes"}, "mark": {"type": "rule", "strokeWidth": 2.5, "clip": true},
         "encoding": {"color": {"datum": "AngularRate Xb", "type": "nominal", "scale": {"domain": ["AngularRate Xb", "AngularRate Yb", "AngularRate Zb"], "range": ["#5b9bd5", "#f6b23e", "#e0460c"]},
           "legend": {"title": "Angular rate on ACS", "orient": "none", "legendX": 1193, "legendY": -6.5, "symbolType": "M-1,0L3,0", "symbolSize": 484, "labelOffset": 29, "rowPadding": 1.5, "titlePadding": 6, "titleAnchor": "middle", "padding": 0, "encode": {"symbols": {"update": {"strokeWidth": {"value": 2.5}}}, "title": {"update": {"dx": {"value": 15}}}}}}}},
        {"data": {"name": "rateY"}, "mark": {"type": "rule", "strokeWidth": 5.6, "clip": true},
         "encoding": {"color": {"datum": "AngularRate Yb", "type": "nominal", "scale": {"domain": ["AngularRate Xb", "AngularRate Yb", "AngularRate Zb"], "range": ["#5b9bd5", "#f6b23e", "#e0460c"]},
           "legend": {"title": "Angular rate on ACS", "orient": "none", "legendX": 1193, "legendY": -6.5, "symbolType": "M-1,0L3,0", "symbolSize": 484, "labelOffset": 29, "rowPadding": 1.5, "titlePadding": 6, "titleAnchor": "middle", "padding": 0, "encode": {"symbols": {"update": {"strokeWidth": {"value": 2.5}}}, "title": {"update": {"dx": {"value": 15}}}}}}}},
        {"data": {"name": "rateYspikes"}, "mark": {"type": "rule", "strokeWidth": 1.6, "clip": true},
         "encoding": {"color": {"datum": "AngularRate Yb", "type": "nominal", "scale": {"domain": ["AngularRate Xb", "AngularRate Yb", "AngularRate Zb"], "range": ["#5b9bd5", "#f6b23e", "#e0460c"]},
           "legend": {"title": "Angular rate on ACS", "orient": "none", "legendX": 1193, "legendY": -6.5, "symbolType": "M-1,0L3,0", "symbolSize": 484, "labelOffset": 29, "rowPadding": 1.5, "titlePadding": 6, "titleAnchor": "middle", "padding": 0, "encode": {"symbols": {"update": {"strokeWidth": {"value": 2.5}}}, "title": {"update": {"dx": {"value": 15}}}}}}}},
        {"data": {"name": "rateZ"}, "mark": {"type": "rule", "strokeWidth": 5.6, "clip": true},
         "encoding": {"color": {"datum": "AngularRate Zb", "type": "nominal", "scale": {"domain": ["AngularRate Xb", "AngularRate Yb", "AngularRate Zb"], "range": ["#5b9bd5", "#f6b23e", "#e0460c"]},
           "legend": {"title": "Angular rate on ACS", "orient": "none", "legendX": 1193, "legendY": -6.5, "symbolType": "M-1,0L3,0", "symbolSize": 484, "labelOffset": 29, "rowPadding": 1.5, "titlePadding": 6, "titleAnchor": "middle", "padding": 0, "encode": {"symbols": {"update": {"strokeWidth": {"value": 2.5}}}, "title": {"update": {"dx": {"value": 15}}}}}}}},
        {"data": {"name": "rateZspikes"}, "mark": {"type": "rule", "strokeWidth": 1.8, "clip": true},
         "encoding": {"color": {"datum": "AngularRate Zb", "type": "nominal", "scale": {"domain": ["AngularRate Xb", "AngularRate Yb", "AngularRate Zb"], "range": ["#5b9bd5", "#f6b23e", "#e0460c"]},
           "legend": {"title": "Angular rate on ACS", "orient": "none", "legendX": 1193, "legendY": -6.5, "symbolType": "M-1,0L3,0", "symbolSize": 484, "labelOffset": 29, "rowPadding": 1.5, "titlePadding": 6, "titleAnchor": "middle", "padding": 0, "encode": {"symbols": {"update": {"strokeWidth": {"value": 2.5}}}, "title": {"update": {"dx": {"value": 15}}}}}}}}
      ]
    }
  ]
}
